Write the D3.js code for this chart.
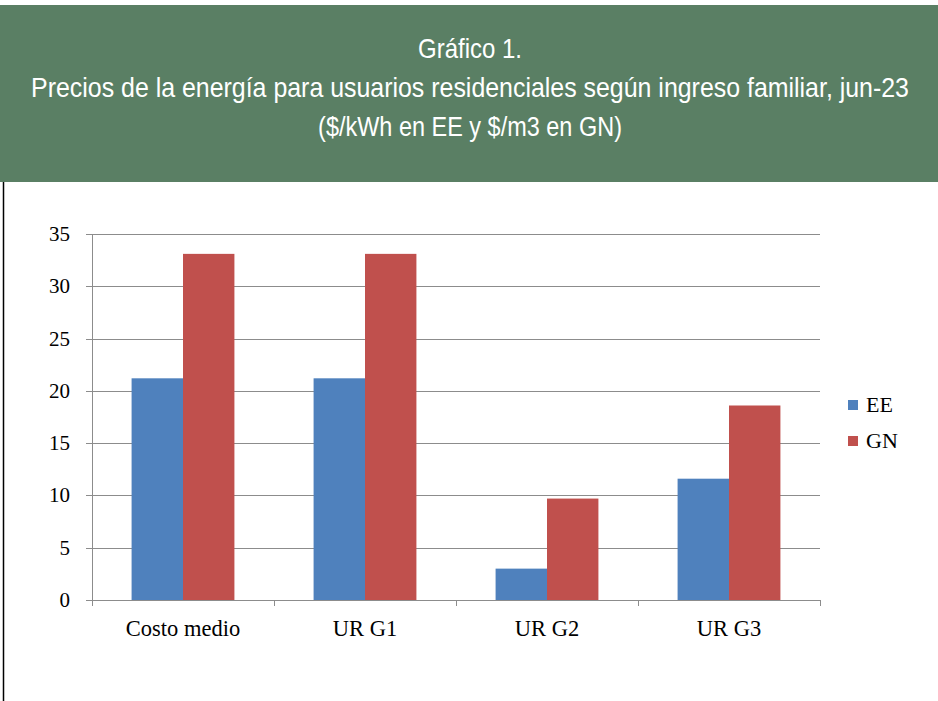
<!DOCTYPE html>
<html>
<head>
<meta charset="utf-8">
<script src="https://cdn.jsdelivr.net/npm/d3@7"></script>
<style>
  body { margin: 0; background: #fff; }
</style>
</head>
<body>
<svg id="chart" width="938" height="701"></svg>
<script>
var categories = ["Costo medio", "UR G1", "UR G2", "UR G3"];
var seriesNames = ["EE", "GN"];
var eeValues = [21.2, 21.2, 3.0, 11.6];
var gnValues = [33.1, 33.1, 9.7, 18.6];
var yTicks = [0, 5, 10, 15, 20, 25, 30, 35];
var titleLines = [
    "Gráfico 1.",
    "Precios de la energía para usuarios residenciales según ingreso familiar, jun-23",
    "($/kWh en EE y $/m3 en GN)"
];
var colors = ["#4f81bd", "#c0504d"];

var svg = d3.select("#chart");

// cabecera verde
svg.append("rect")
    .attr("x", 0).attr("y", 5)
    .attr("width", 938).attr("height", 177)
    .attr("fill", "#5a7f64");

svg.append("line")
    .attr("x1", 3.5).attr("x2", 3.5)
    .attr("y1", 182).attr("y2", 701)
    .attr("stroke", "#000").attr("stroke-width", 1.5);

// titulo condensado: se escala horizontalmente al ancho del original
var titleY = [58, 97, 136];
var titleLen = [104, 878, 304];
svg.selectAll(".title")
    .data(titleLines)
    .enter()
    .append("text")
    .classed("title", true)
    .attr("x", 0)
    .attr("y", 0)
    .attr("text-anchor", "middle")
    .attr("fill", "#fff")
    .attr("font-family", "'Liberation Sans', Arial, sans-serif")
    .attr("font-size", "28px")
    .text(d => d)
    .attr("transform", function(d, i) {
        var s = titleLen[i] / this.getComputedTextLength();
        return "translate(470," + titleY[i] + ") scale(" + s + ",1)";
    });

var margin = {left: 92, right: 118, top: 234, bottom: 101};
var width = 938 - margin.left - margin.right;
var height = 701 - margin.top - margin.bottom;

var g = svg.append("g")
    .attr("transform", "translate(" + margin.left + "," + margin.top + ")");

var x0 = d3.scaleBand()
    .domain(categories)
    .range([0, width]);

var x1 = d3.scaleBand()
    .domain(seriesNames)
    .range([0, x0.bandwidth()])
    .paddingOuter(0.77);

var y = d3.scaleLinear()
    .domain([0, 35])
    .range([height, 0]);

var gridColor = "#8c8c8c";

// lineas de cuadricula
g.selectAll(".grid")
    .data(yTicks)
    .enter()
    .append("line")
    .attr("x1", -6).attr("x2", width)
    .attr("y1", d => Math.round(y(d)) + 0.5)
    .attr("y2", d => Math.round(y(d)) + 0.5)
    .attr("stroke", gridColor)
    .attr("stroke-width", 1);

var table = categories.map((c, i) => ({cat: c, values: [
    {key: "EE", value: eeValues[i]},
    {key: "GN", value: gnValues[i]}
]}));

g.selectAll(".group")
    .data(table)
    .enter()
    .append("g")
    .attr("transform", d => "translate(" + x0(d.cat) + ",0)")
    .selectAll("rect")
    .data(d => d.values)
    .enter()
    .append("rect")
    .attr("x", d => x1(d.key))
    .attr("width", x1.bandwidth())
    .attr("y", d => y(d.value))
    .attr("height", d => height - y(d.value))
    .attr("fill", (d, i) => colors[i]);

// ejes
g.append("line")
    .attr("x1", 0.5).attr("x2", 0.5)
    .attr("y1", 0).attr("y2", height + 6)
    .attr("stroke", gridColor);

var xTicks = categories.map(c => x0(c)).concat([width]);
g.selectAll(".xtick")
    .data(xTicks)
    .enter()
    .append("line")
    .attr("x1", d => Math.round(d) + 0.5)
    .attr("x2", d => Math.round(d) + 0.5)
    .attr("y1", height).attr("y2", height + 6)
    .attr("stroke", gridColor);

var serif = "'Liberation Serif', 'Times New Roman', serif";

g.selectAll(".ylabel")
    .data(yTicks)
    .enter()
    .append("text")
    .attr("x", -22)
    .attr("y", d => y(d) + 7)
    .attr("text-anchor", "end")
    .attr("font-family", serif)
    .attr("font-size", "21px")
    .attr("fill", "#000")
    .text(d => d);

g.selectAll(".xlabel")
    .data(categories)
    .enter()
    .append("text")
    .attr("x", d => x0(d) + x0.bandwidth() / 2)
    .attr("y", height + 36)
    .attr("text-anchor", "middle")
    .attr("font-family", serif)
    .attr("font-size", "22.5px")
    .attr("fill", "#000")
    .text(d => d);

// leyenda
var legend = svg.selectAll(".legend")
    .data(seriesNames)
    .enter()
    .append("g")
    .attr("transform", (d, i) => "translate(848," + (400 + i * 36) + ")");

legend.append("rect")
    .attr("width", 10).attr("height", 10)
    .attr("fill", (d, i) => colors[i]);

legend.append("text")
    .attr("x", 18).attr("y", 12)
    .attr("font-family", serif)
    .attr("font-size", "22px")
    .attr("fill", "#000")
    .text(d => d);
</script>
</body>
</html>
